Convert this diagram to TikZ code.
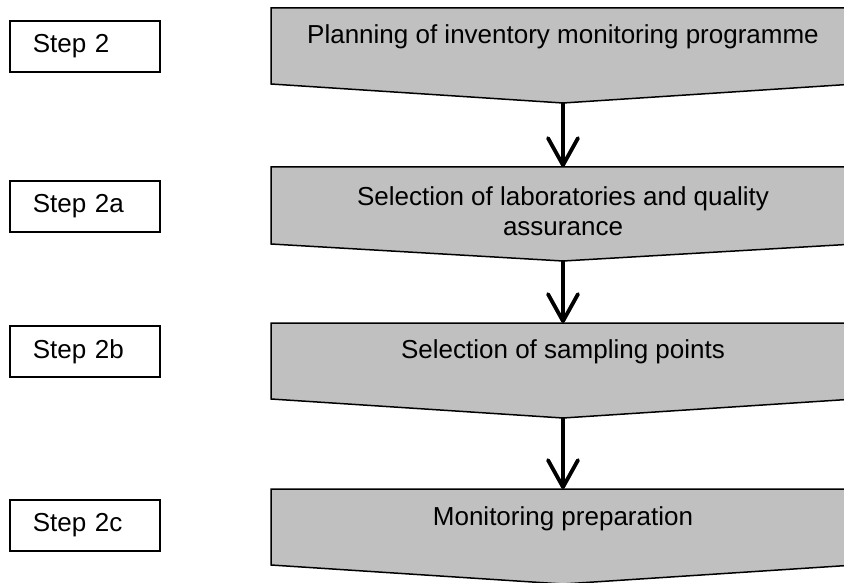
\documentclass[tikz,border=0pt]{standalone}
\usepackage{fontspec}
\setmainfont{Liberation Sans}
\usetikzlibrary{arrows.meta}
\definecolor{shapegray}{HTML}{C0C0C0}
\tikzset{
  stage/.style={draw=black, line width=1.5pt, fill=shapegray, line join=miter},
  stagetext/.style={font=\fontsize{26}{30}\selectfont, align=center, inner sep=0pt},
  stepbox/.style={draw=black, line width=1.5pt, rectangle, minimum height=51pt,
    text width=104pt, inner xsep=23pt, inner ysep=0pt, align=left,
    font=\fontsize{26}{30}\selectfont, anchor=west},
  flow/.style={line width=3.8pt, -{Straight Barb[length=27pt, width=30pt, round]}}
}
\begin{document}
\begin{tikzpicture}[x=1pt, y=-1pt]
\useasboundingbox (0,0) rectangle (844,583);
\clip (0,0) rectangle (844,583);
% stages
\draw[stage] (271,8) -- (855,8) -- (855,84) -- (563,103) -- (271,84) -- cycle;
\draw[stage] (271,167) -- (855,167) -- (855,244) -- (563,261) -- (271,244) -- cycle;
\draw[stage] (271,323) -- (855,323) -- (855,399) -- (563,418) -- (271,399) -- cycle;
\draw[stage] (271,489) -- (855,489) -- (855,565) -- (563,584) -- (271,565) -- cycle;
\coordinate (tip1) at (563,103);
\coordinate (top2) at (563,167);
\coordinate (tip2) at (563,261);
\coordinate (top3) at (563,323);
\coordinate (tip3) at (563,418);
\coordinate (top4) at (563,489);
\node[stagetext] (t1) at (563,37) {Planning of inventory monitoring programme};
\node[stagetext, anchor=north] (t2) at (563,186.5) {Selection of laboratories and quality\\assurance};
\node[stagetext] (t3) at (563,352) {Selection of sampling points};
\node[stagetext] (t4) at (563,519) {Monitoring preparation};
% arrows
\draw[flow] (tip1) -- (top2);
\draw[flow] (tip2) -- (top3);
\draw[flow] (tip3) -- (top4);
% step labels
\node[stepbox] (s1) at (9,46.5) {Step 2};
\node[stepbox] (s2) at (9,206.5) {Step 2a};
\node[stepbox] (s3) at (9,351.5) {Step 2b};
\node[stepbox] (s4) at (9,525.5) {Step 2c};
\end{tikzpicture}
\end{document}
